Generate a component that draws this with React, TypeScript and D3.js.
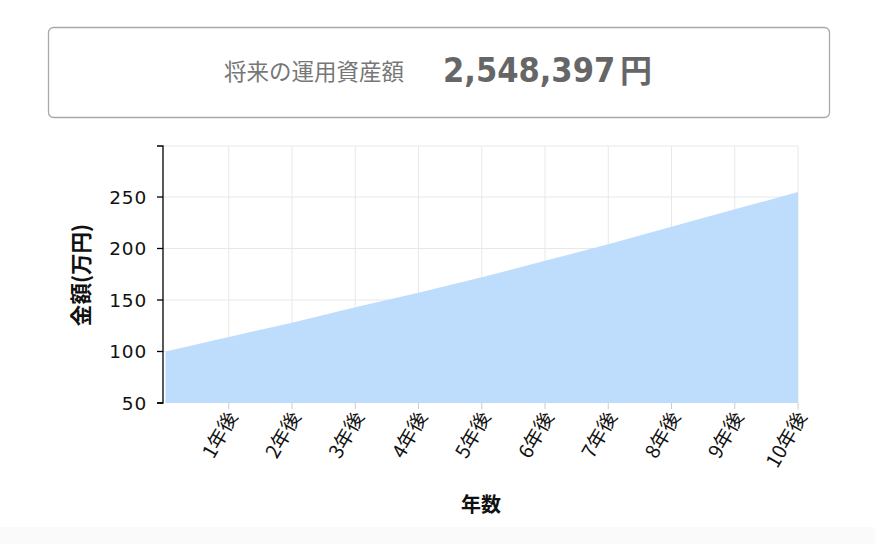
import React from "react";
import * as d3 from "d3";

// Projected balance per year, in 万円
const years = [0, 1, 2, 3, 4, 5, 6, 7, 8, 9, 10];
const balances = [100, 114, 128, 143, 157, 172, 188, 204, 221, 238, 254.84];
const xTickYears = [1, 2, 3, 4, 5, 6, 7, 8, 9, 10];
const yTickValues = [50, 100, 150, 200, 250];
const summaryLabel = "将来の運用資産額";
const summaryValue = "2,548,397";
const summaryUnit = "円";
const xTitle = "年数";
const yTitle = "金額(万円)";

const W = 875;
const H = 544;
const plot = { left: 163, right: 798, top: 146, bottom: 403 };

export default function App() {
  const x = d3.scaleLinear().domain([0, 10]).range([plot.left + 2.5, plot.right]);
  const y = d3.scaleLinear().domain([50, 299.5]).range([plot.bottom, plot.top]);

  const data = years.map((yr, i) => ({ yr, v: balances[i] }));
  const area = d3
    .area<{ yr: number; v: number }>()
    .x((d) => x(d.yr))
    .y0(y(50))
    .y1((d) => y(d.v));

  const gridY = [...yTickValues.slice(1), 299.5];
  const font = "'DejaVu Sans', Verdana, sans-serif";
  const jpFont = "'Noto Sans CJK JP', 'Noto Sans', sans-serif";

  return (
    <svg
      width={W}
      height={H}
      style={{ position: "absolute", left: 0, top: 0, background: "#fff" }}
    >
      <rect x={0} y={527} width={W} height={H - 527} fill="#fafafa" />

      {/* summary box */}
      <rect
        x={48.5}
        y={27.5}
        width={781}
        height={90}
        rx={5}
        fill="#fff"
        stroke="#a9a9a9"
        strokeWidth={1.3}
      />
      <text
        x={314}
        y={80}
        textAnchor="middle"
        fontFamily={jpFont}
        fontSize={22.5}
        fill="#777"
      >
        {summaryLabel}
      </text>
      {/* condensed bold amount */}
      <text
        transform="translate(443,82) scale(0.9,1)"
        fontFamily={font}
        fontWeight="bold"
        fontSize={34}
        fill="#666"
      >
        {summaryValue}
      </text>
      <text
        x={620}
        y={82}
        fontFamily={jpFont}
        fontWeight="bold"
        fontSize={32}
        fill="#666"
      >
        {summaryUnit}
      </text>

      {/* grid */}
      <g stroke="#e8e8e8" strokeWidth={1}>
        {gridY.map((v) => (
          <line key={"gy" + v} x1={plot.left} x2={plot.right} y1={y(v)} y2={y(v)} />
        ))}
        {xTickYears.map((t) => (
          <line key={"gx" + t} x1={x(t)} x2={x(t)} y1={plot.top} y2={plot.bottom} />
        ))}
      </g>

      {/* area */}
      <path d={area(data) || ""} fill="#bedcfc" />

      {/* x ticks */}
      <g>
        {xTickYears.map((t) => (
          <g key={"xt" + t} transform={`translate(${x(t)},${plot.bottom})`}>
            <line y1={0} y2={6} stroke="#ccc" />
            <text
              transform="translate(5,11) rotate(-60)"
              textAnchor="end"
              dominantBaseline="middle"
              fontFamily={jpFont}
              fontSize={19.5}
              fill="#111"
            >
              {t}年後
            </text>
          </g>
        ))}
      </g>

      {/* y axis */}
      <g>
        <path
          d={`M${plot.left - 6},${plot.top}H${plot.left}V${plot.bottom}H${plot.left - 6}`}
          fill="none"
          stroke="#000"
          strokeWidth={1.3}
        />
        {yTickValues.map((v) => (
          <g key={"yt" + v} transform={`translate(${plot.left},${y(v)})`}>
            <line x1={-6} x2={0} stroke="#000" strokeWidth={1.3} />
            <text
              x={-16}
              dy="0.36em"
              textAnchor="end"
              fontFamily={font}
              fontSize={18.5}
              letterSpacing={0.8}
              fill="#111"
            >
              {v}
            </text>
          </g>
        ))}
      </g>

      {/* axis titles */}
      <text
        x={481}
        y={512}
        textAnchor="middle"
        fontFamily={jpFont}
        fontWeight="bold"
        fontSize={20}
        fill="#111"
      >
        {xTitle}
      </text>
      <text
        transform={`translate(89,275) rotate(-90)`}
        textAnchor="middle"
        fontFamily={jpFont}
        fontWeight="bold"
        fontSize={21.5}
        fill="#111"
      >
        {yTitle}
      </text>
    </svg>
  );
}
